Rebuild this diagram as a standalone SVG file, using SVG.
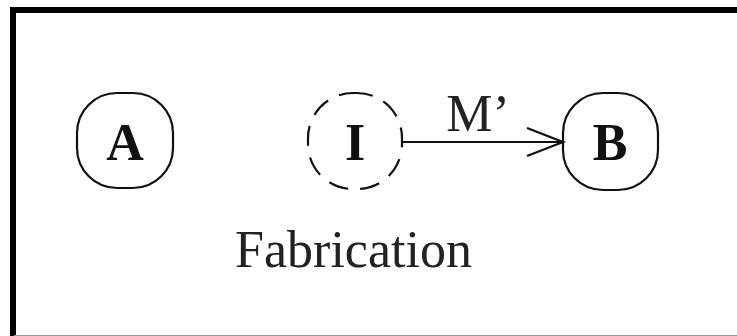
<svg xmlns="http://www.w3.org/2000/svg" width="737" height="336" viewBox="0 0 737 336">
<style>
.node{fill:none;stroke:#111;stroke-width:2.2}
.dash{stroke-dasharray:20 12}
.lbl{font-family:"Liberation Serif","Times New Roman",serif;font-weight:bold;font-size:52px;fill:#111;text-anchor:middle}
.txt{font-family:"Liberation Serif","Times New Roman",serif;font-size:52px;fill:#222;text-anchor:middle}
.edge{fill:none;stroke:#111;stroke-width:2.2}
</style>
<defs>
<marker id="arr" markerUnits="userSpaceOnUse" markerWidth="40" markerHeight="32" refX="37" refY="15" orient="auto">
<path d="M1,1 L37,15 L1,29" fill="none" stroke="#111" stroke-width="2.2"/>
</marker>
</defs>
<rect width="737" height="336" fill="#fff"/>
<g id="frame">
<path d="M13,336 L13,10 L737,10" fill="none" stroke="#000" stroke-width="6"/>
<line x1="14" y1="335.5" x2="737" y2="335.5" stroke="#999" stroke-width="1"/>
</g>
<g id="connectors">
<line class="edge" x1="402" y1="142" x2="563" y2="142" marker-end="url(#arr)"/>
<text class="txt" x="478" y="131">M’</text>
</g>
<g id="nodeA">
<rect class="node" x="77" y="93" width="96" height="95" rx="40"/>
<text class="lbl" x="125" y="160">A</text>
</g>
<g id="nodeI">
<rect class="node dash" x="308" y="93" width="94" height="96" rx="45"/>
<text class="lbl" x="355" y="160">I</text>
</g>
<g id="nodeB">
<rect class="node" x="563" y="93" width="95" height="97" rx="40"/>
<text class="lbl" x="610" y="160">B</text>
</g>
<g id="caption">
<text class="txt" x="353.5" y="267">Fabrication</text>
</g>
</svg>
